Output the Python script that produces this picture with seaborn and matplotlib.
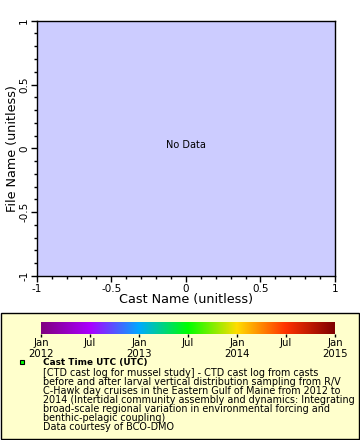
import numpy as np
import pandas as pd
import seaborn as sns
import matplotlib.pyplot as plt
import matplotlib.dates as mdates
from matplotlib.colors import LinearSegmentedColormap
from matplotlib.patches import Rectangle

# No casts matched the query, so both coordinate columns are empty
cast_name = []
file_name = []
cast_time = []

x_ticks = [-1, -0.5, 0, 0.5, 1]
y_ticks = [-1, -0.5, 0, 0.5, 1]
x_tick_labels = ["-1", "-0.5", "0", "0.5", "1"]
y_tick_labels = ["-1", "-0.5", "0", "0.5", "1"]

time_start = "2012-01-01"
time_end = "2015-01-01"
time_ticks = ["2012-01-01", "2012-07-01", "2013-01-01", "2013-07-01",
              "2014-01-01", "2014-07-01", "2015-01-01"]
time_tick_labels = ["Jan\n2012", "Jul", "Jan\n2013", "Jul",
                    "Jan\n2014", "Jul", "Jan\n2015"]

legend_title = "Cast Time UTC (UTC)"
legend_lines = [
    "[CTD cast log for mussel study] - CTD cast log from casts",
    "before and after larval vertical distribution sampling from R/V",
    "C-Hawk day cruises in the Eastern Gulf of Maine from 2012 to",
    "2014 (Intertidal community assembly and dynamics: Integrating",
    "broad-scale regional variation in environmental forcing and",
    "benthic-pelagic coupling)",
    "Data courtesy of BCO-DMO",
]

sns.set_style("ticks")
plt.rcParams["font.family"] = ["DejaVu Sans"]
plt.rcParams.update({"text.color": "black", "axes.labelcolor": "black",
                     "xtick.color": "black", "ytick.color": "black"})

rainbow = LinearSegmentedColormap.from_list(
    "erddap_rainbow",
    ["#800080", "#aa00ff", "#00aaff", "#00ff00", "#ffdd00", "#ff3300", "#800000"])

fig = plt.figure(figsize=(3.6, 4.4), dpi=100)
W, H = 360, 440

def px_axes(x0, y0, x1, y1, **kw):
    return fig.add_axes([x0 / W, 1 - y1 / H, (x1 - x0) / W, (y1 - y0) / H], **kw)

# main plot
ax = px_axes(36.7, 20.7, 335, 276)
df = pd.DataFrame({"cast_name": pd.Series(cast_name, dtype=float),
                   "file_name": pd.Series(file_name, dtype=float)})
sns.scatterplot(data=df, x="cast_name", y="file_name", ax=ax, legend=False)
ax.set_facecolor("#ccccff")
ax.set_xlim(-1, 1)
ax.set_ylim(-1, 1)
ax.set_xticks(x_ticks)
ax.set_xticklabels(x_tick_labels)
ax.set_yticks(y_ticks)
ax.set_yticklabels(y_tick_labels, rotation=90, va="center")
ax.set_xticks(np.arange(-1, 1.01, 0.1), minor=True)
ax.set_yticks(np.arange(-1, 1.01, 0.1), minor=True)
ax.tick_params(which="major", direction="out", length=4.5, width=1, labelsize=7.5, pad=1)
ax.tick_params(which="minor", direction="out", length=2.3, width=1)
for s in ax.spines.values():
    s.set_linewidth(1)
    s.set_color("black")
ax.set_xlabel("Cast Name (unitless)", fontsize=9.2)
ax.set_ylabel("File Name (unitless)", fontsize=9.2)
ax.xaxis.set_label_coords(0.5, -0.068)
ax.yaxis.set_label_coords(-0.06, 0.5)
ax.text(0, 0.03, "No Data", ha="center", va="center", fontsize=7)

# legend box
leg = px_axes(0, 0, W, H)
leg.set_xlim(0, W)
leg.set_ylim(H, 0)
leg.axis("off")
leg.add_patch(Rectangle((1, 312.7), 357.5, 126, facecolor="#ffffcc",
                        edgecolor="black", linewidth=1))
leg.add_patch(Rectangle((19.5, 360), 4.5, 4.5, facecolor="#00ff00",
                        edgecolor="black", linewidth=0.8))
leg.text(42.7, 362.5, legend_title, fontsize=6.4, fontweight="bold", va="center")
for i, line in enumerate(legend_lines):
    leg.text(42.7, 372.7 + i * 9.05, line, fontsize=6.9, va="center")

# colorbar
cax = px_axes(41, 322.3, 335, 334)
t0 = mdates.date2num(pd.Timestamp(time_start))
t1 = mdates.date2num(pd.Timestamp(time_end))
grad = np.linspace(0, 1, 512).reshape(1, -1)
cax.imshow(grad, aspect="auto", cmap=rainbow, extent=[t0, t1, 0, 1])
cax.set_xlim(t0, t1)
cax.set_yticks([])
cax.set_xticks([mdates.date2num(pd.Timestamp(t)) for t in time_ticks])
cax.set_xticklabels(time_tick_labels, fontsize=7.3, linespacing=1.05)
cax.tick_params(axis="x", direction="out", length=2.5, width=1, pad=0.5)
for s in cax.spines.values():
    s.set_visible(False)

fig.savefig("out.png", dpi=100)
